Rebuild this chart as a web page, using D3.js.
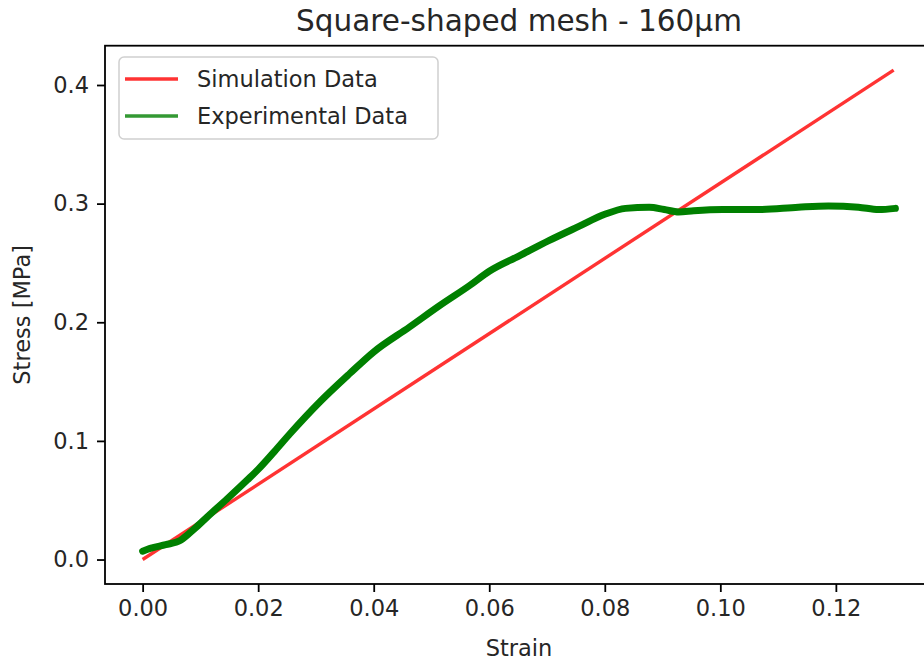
<!DOCTYPE html>
<html>
<head>
<meta charset="utf-8">
<script src="https://cdn.jsdelivr.net/npm/d3@7"></script>
<style>
  html, body { margin: 0; padding: 0; background: #fff; }
  svg { display: block; font-family: "DejaVu Sans", sans-serif; }
</style>
</head>
<body>
<svg id="chart" width="924" height="661"></svg>
<script>
// ---- data ----
const simStrain = [0.0, 0.13];
const simStress = [0.0, 0.4125];

const expStrain = [0.0, 0.0013, 0.004, 0.0065, 0.0077, 0.009, 0.0112, 0.0146, 0.0181, 0.02, 0.0228, 0.0255, 0.0307, 0.0359, 0.04, 0.0462, 0.0514, 0.0566, 0.06, 0.0652, 0.0704, 0.0756, 0.08, 0.0836, 0.0877, 0.0903, 0.0928, 0.0954, 0.1004, 0.1066, 0.1135, 0.1187, 0.1239, 0.1274, 0.1303];
const expStress = [0.007, 0.0094, 0.0125, 0.016, 0.0205, 0.026, 0.036, 0.051, 0.067, 0.076, 0.091, 0.106, 0.133, 0.157, 0.175, 0.196, 0.214, 0.231, 0.243, 0.256, 0.269, 0.281, 0.291, 0.296, 0.297, 0.295, 0.293, 0.294, 0.295, 0.295, 0.297, 0.298, 0.297, 0.295, 0.296];

const xTicks = [0.00, 0.02, 0.04, 0.06, 0.08, 0.10, 0.12];
const yTicks = [0.0, 0.1, 0.2, 0.3, 0.4];

const titleText = "Square-shaped mesh - 160µm";
const xLabel = "Strain";
const yLabel = "Stress [MPa]";
const seriesNames = ["Simulation Data", "Experimental Data"];
const seriesColors = ["#ff0000", "#008000"];

// ---- layout ----
const svg = d3.select("#chart");
const L = 105, R = 933, T = 45.7, B = 584;

const allX = simStrain.concat(expStrain);
const allY = simStress.concat(expStress);
const xmin = d3.min(allX), xmax = d3.max(allX);
const ymin = d3.min(allY), ymax = d3.max(allY);
const xm = (xmax - xmin) * 0.05, ym = (ymax - ymin) * 0.05;

const x = d3.scaleLinear().domain([xmin - xm, xmax + xm]).range([L, R]);
const y = d3.scaleLinear().domain([ymin - ym, ymax + ym]).range([B, T]);

const fs = 22.5;
const textColor = "#262626";

// clip
svg.append("defs").append("clipPath").attr("id", "clip")
  .append("rect").attr("x", L).attr("y", T).attr("width", R - L).attr("height", B - T);

const plot = svg.append("g").attr("clip-path", "url(#clip)");

const line = d3.line().x(d => x(d[0])).y(d => y(d[1]));

plot.append("path")
  .datum(simStrain.map((v, i) => [v, simStress[i]]))
  .attr("d", line)
  .attr("fill", "none")
  .attr("stroke", seriesColors[0])
  .attr("stroke-opacity", 0.8)
  .attr("stroke-width", 3.4);

plot.append("path")
  .datum(expStrain.map((v, i) => [v, expStress[i]]))
  .attr("d", line.curve(d3.curveMonotoneX))
  .attr("fill", "none")
  .attr("stroke", seriesColors[1])
  .attr("stroke-width", 7)
  .attr("stroke-linejoin", "round")
  .attr("stroke-linecap", "round");

// axes
const xAxis = d3.axisBottom(x).tickValues(xTicks).tickFormat(d3.format(".2f")).tickSizeOuter(0).tickSize(8).tickPadding(8);
const yAxis = d3.axisLeft(y).tickValues(yTicks).tickFormat(d3.format(".1f")).tickSizeOuter(0).tickSize(8).tickPadding(8);

const gx = svg.append("g").attr("transform", `translate(0,${B})`).call(xAxis);
const gy = svg.append("g").attr("transform", `translate(${L},0)`).call(yAxis);
[gx, gy].forEach(g => {
  g.select(".domain").remove();
  g.selectAll(".tick line").attr("stroke", "#000").attr("stroke-width", 1.8);
  g.selectAll(".tick text").attr("fill", textColor).style("font-size", fs + "px").style("font-family", "DejaVu Sans");
});

// frame
svg.append("rect").attr("x", L).attr("y", T).attr("width", R - L).attr("height", B - T)
  .attr("fill", "none").attr("stroke", "#000").attr("stroke-width", 1.8);

// title & labels
svg.append("text").attr("x", (L + R) / 2).attr("y", 31).attr("text-anchor", "middle")
  .attr("fill", textColor).style("font-size", "29.5px").text(titleText);
svg.append("text").attr("x", (L + R) / 2).attr("y", 656).attr("text-anchor", "middle")
  .attr("fill", textColor).style("font-size", fs + "px").text(xLabel);
svg.append("text").attr("transform", `translate(30,${(T + B) / 2}) rotate(-90)`).attr("text-anchor", "middle")
  .attr("fill", textColor).style("font-size", fs + "px").text(yLabel);

// legend
const lg = svg.append("g");
lg.append("rect").attr("x", 119).attr("y", 57).attr("width", 319).attr("height", 82).attr("rx", 5)
  .attr("fill", "#fff").attr("fill-opacity", 0.8).attr("stroke", "#d0d0d0").attr("stroke-width", 1.5);
seriesNames.forEach((name, i) => {
  const yy = 79 + i * 37;
  lg.append("line").attr("x1", 125).attr("x2", 178).attr("y1", yy).attr("y2", yy)
    .attr("stroke", seriesColors[i]).attr("stroke-opacity", 0.8).attr("stroke-width", 3.4);
  lg.append("text").attr("x", 197).attr("y", yy + 8).attr("fill", textColor)
    .style("font-size", fs + "px").text(name);
});
</script>
</body>
</html>
